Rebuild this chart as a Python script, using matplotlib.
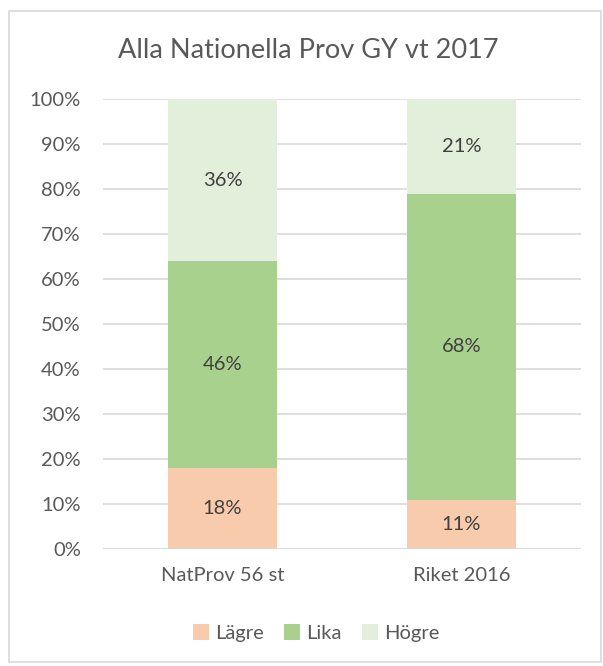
import matplotlib
matplotlib.use("Agg")
import matplotlib.pyplot as plt
from matplotlib.patches import Rectangle

categories = ["NatProv 56 st", "Riket 2016"]
series_names = ["Lägre", "Lika", "Högre"]
lagre = [18, 11]
lika = [46, 68]
hogre = [36, 21]
yticks = [0, 10, 20, 30, 40, 50, 60, 70, 80, 90, 100]
colors = ["#F8CBAD", "#A9D18E", "#E2EFDA"]

plt.rcParams['font.family'] = ['Lato', 'DejaVu Sans']
txt = "#595959"

fig = plt.figure(figsize=(6.03, 6.66), dpi=100)
fig.patches.append(Rectangle((9/603, 1-662/666), 592/603, 651/666, transform=fig.transFigure,
                             fill=False, edgecolor="#D9D9D9", linewidth=1.2))
ax = fig.add_axes([103/603, 1-549/666, 478/603, 450/666])

x = list(range(len(categories)))
bottom = [0]*len(categories)
for name, vals, c in zip(series_names, [lagre, lika, hogre], colors):
    bars = ax.bar(x, vals, bottom=bottom, width=0.46, color=c, label=name, zorder=3)
    for xi, b, v in zip(x, bottom, vals):
        ax.text(xi, b + v/2, f"{v}%", ha="center", va="center", fontsize=14.5, color="#404040", zorder=4)
    bottom = [b + v for b, v in zip(bottom, vals)]

ax.set_xlim(-0.5, 1.5)
ax.set_ylim(0, 100)
ax.set_yticks(yticks)
ax.set_yticklabels([f"{t}%" for t in yticks], fontsize=14.5, color=txt)
ax.set_xticks(x)
ax.set_xticklabels(categories, fontsize=14.5, color=txt)
ax.tick_params(length=0)
ax.tick_params(axis="y", pad=16)
ax.tick_params(axis="x", pad=13)
ax.grid(axis="y", color="#D9D9D9", linewidth=1.2, zorder=0)
for s in ax.spines.values():
    s.set_visible(False)
ax.axhline(0, color="#D9D9D9", linewidth=1.2, zorder=5)

fig.text(308/603, 1-50/666, "Alla Nationella Prov GY vt 2017", ha="center", va="center",
         fontsize=19.5, color=txt)
leg = fig.legend(loc="center", bbox_to_anchor=(316/603, 1-633/666), ncol=3, frameon=False,
                 fontsize=14.5, handlelength=0.8, handleheight=0.8, handletextpad=0.3,
                 columnspacing=1.0)
for t in leg.get_texts():
    t.set_color(txt)

fig.savefig("out.png", dpi=100)
